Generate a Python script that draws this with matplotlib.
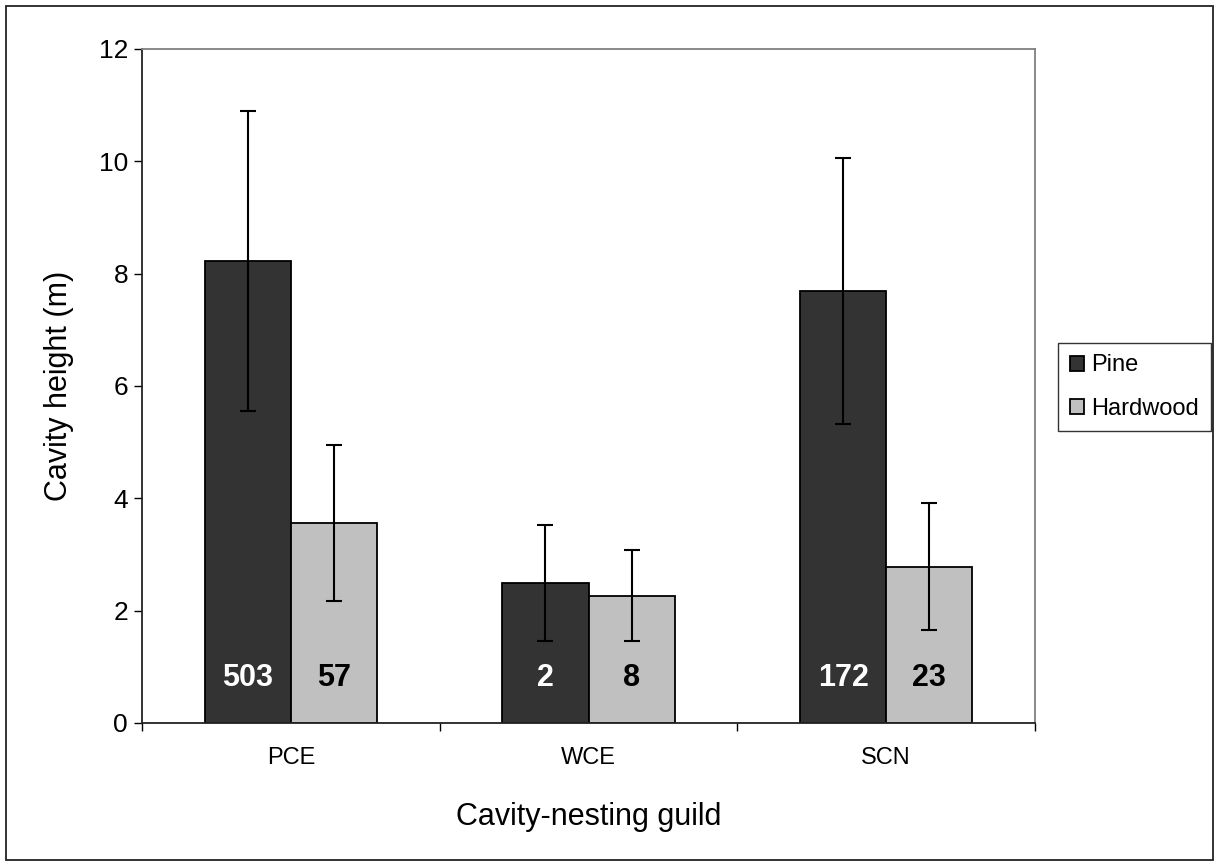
import matplotlib
matplotlib.use("Agg")
from matplotlib import pyplot as plt
from matplotlib.patches import Rectangle
import numpy as np

plt.rcParams['font.family'] = ['Liberation Sans', 'DejaVu Sans']

# data
guilds = ['PCE', 'WCE', 'SCN']
pine_mean = [8.22, 2.49, 7.69]
pine_sd = [2.67, 1.03, 2.37]
hard_mean = [3.56, 2.27, 2.78]
hard_sd = [1.39, 0.81, 1.13]
pine_n = [503, 2, 172]
hard_n = [57, 8, 23]

PINE_COL = '#333333'
HARD_COL = '#c0c0c0'


def main():
	fig = plt.figure(figsize=(12.15, 8.63), dpi=100)
	ax = fig.add_axes([142/1215, 1 - 723/863, (1035 - 142)/1215, (723 - 49)/863])

	x = np.arange(len(guilds))
	w = 0.289
	err_kw = dict(ecolor='black', elinewidth=1.5, capsize=5.8, capthick=1.5)
	ax.bar(x - w/2, pine_mean, w, yerr=pine_sd, color=PINE_COL, edgecolor='black',
		linewidth=1.3, label='Pine', error_kw=err_kw, zorder=2)
	ax.bar(x + w/2, hard_mean, w, yerr=hard_sd, color=HARD_COL, edgecolor='black',
		linewidth=1.3, label='Hardwood', error_kw=err_kw, zorder=2)

	#sample sizes inside bars
	for i in range(len(guilds)):
		ax.text(x[i] - w/2, 0.8, str(pine_n[i]), color='white', fontsize=22,
			fontweight='bold', ha='center', va='center', zorder=3)
		ax.text(x[i] + w/2, 0.8, str(hard_n[i]), color='black', fontsize=22,
			fontweight='bold', ha='center', va='center', zorder=3)

	ax.set_xlim(-0.5, 2.5)
	ax.set_ylim(0, 12)
	ax.set_yticks(range(0, 13, 2))
	ax.tick_params(axis='y', labelsize=19, length=6, width=1, pad=4, direction='out')
	ax.set_xticks(x)
	ax.set_xticklabels(guilds)
	ax.set_xticks([-0.5, 0.5, 1.5, 2.5], minor=True)
	ax.tick_params(axis='x', which='major', length=0, labelsize=17, pad=17)
	ax.tick_params(axis='x', which='minor', length=6, width=1, direction='out')

	for s in ['top', 'right']:
		ax.spines[s].set_color('#808080')
		ax.spines[s].set_linewidth(1.3)
	for s in ['left', 'bottom']:
		ax.spines[s].set_color('#222222')
		ax.spines[s].set_linewidth(1.3)

	ax.set_ylabel('Cavity height (m)', fontsize=22, labelpad=18)
	ax.set_xlabel('Cavity-nesting guild', fontsize=22, labelpad=24)

	leg = fig.legend(loc='center left', bbox_to_anchor=(1058/1215, 1 - 387/863),
		fontsize=17, frameon=True, fancybox=False, edgecolor='black',
		handlelength=0.6, handleheight=0.6, handletextpad=0.3, borderpad=0.5,
		labelspacing=0.9, borderaxespad=0)
	leg.get_frame().set_linewidth(1.0)

	#border around the whole picture
	fig.patches.append(Rectangle((6/1215, 3/863), 1207/1215, 854/863, transform=fig.transFigure,
		fill=False, edgecolor='#222222', linewidth=1.3))

	fig.savefig('out.png', dpi=100)


if __name__ == "__main__":
	main()
